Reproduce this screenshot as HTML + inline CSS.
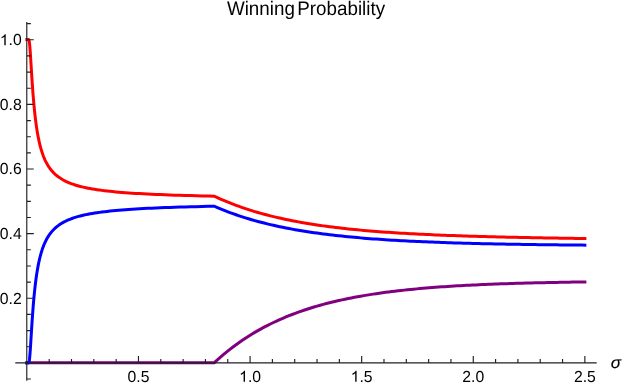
<!DOCTYPE html>
<html><head><meta charset="utf-8"><title>Winning Probability</title>
<style>
html,body{margin:0;padding:0;background:#fff;}
body{width:623px;height:383px;overflow:hidden;font-family:"Liberation Sans",sans-serif;}
svg{display:block;will-change:transform;}
text{text-rendering:geometricPrecision;font-family:"Liberation Sans",sans-serif;fill:#000;}
</style></head><body>
<svg width="623" height="383" viewBox="0 0 623 383">
<rect width="623" height="383" fill="#fff"/>
<text transform="translate(306.0,14.75) scale(1,1.045)" font-size="18.8" text-anchor="middle" word-spacing="-2.7">Winning Probability</text>
<g fill="none" stroke-width="3" stroke-linejoin="miter" stroke-miterlimit="4" stroke-linecap="square">
<path stroke="#800080" d="M26.80,362.70 L214.30,362.70 L217.41,359.84 L220.53,357.09 L223.64,354.43 L226.76,351.86 L229.87,349.38 L232.98,346.98 L236.10,344.68 L239.21,342.45 L242.33,340.29 L245.44,338.22 L248.55,336.21 L251.67,334.28 L254.78,332.41 L257.90,330.61 L261.01,328.87 L264.12,327.19 L267.24,325.57 L270.35,324.00 L273.47,322.49 L276.58,321.03 L279.69,319.63 L282.81,318.27 L285.92,316.96 L289.04,315.70 L292.15,314.48 L295.26,313.30 L298.38,312.16 L301.49,311.06 L304.61,310.01 L307.72,308.98 L310.84,308.00 L313.95,307.05 L317.06,306.13 L320.18,305.24 L323.29,304.38 L326.41,303.56 L329.52,302.76 L332.63,301.99 L335.75,301.25 L338.86,300.53 L341.98,299.84 L345.09,299.18 L348.20,298.53 L351.32,297.91 L354.43,297.31 L357.55,296.73 L360.66,296.17 L363.77,295.63 L366.89,295.11 L370.00,294.61 L373.12,294.13 L376.23,293.66 L379.34,293.21 L382.46,292.77 L385.57,292.35 L388.69,291.95 L391.80,291.55 L394.91,291.18 L398.03,290.81 L401.14,290.46 L404.26,290.12 L407.37,289.79 L410.48,289.48 L413.60,289.17 L416.71,288.88 L419.83,288.59 L422.94,288.32 L426.05,288.05 L429.17,287.80 L432.28,287.55 L435.40,287.31 L438.51,287.08 L441.62,286.86 L444.74,286.65 L447.85,286.44 L450.97,286.24 L454.08,286.05 L457.19,285.86 L460.31,285.68 L463.42,285.51 L466.54,285.34 L469.65,285.18 L472.76,285.03 L475.88,284.88 L478.99,284.73 L482.11,284.59 L485.22,284.46 L488.33,284.33 L491.45,284.20 L494.56,284.08 L497.68,283.97 L500.79,283.85 L503.91,283.74 L507.02,283.64 L510.13,283.54 L513.25,283.44 L516.36,283.35 L519.48,283.25 L522.59,283.17 L525.70,283.08 L528.82,283.00 L531.93,282.92 L535.05,282.84 L538.16,282.77 L541.27,282.70 L544.39,282.63 L547.50,282.56 L550.62,282.50 L553.73,282.44 L556.84,282.38 L559.96,282.32 L563.07,282.27 L566.19,282.21 L569.30,282.16 L572.41,282.11 L575.53,282.06 L578.64,282.02 L581.76,281.97 L584.87,281.93"/>
<path stroke="#0000ff" d="M26.87,362.88 L26.98,362.88 L26.99,362.88 L26.99,362.88 L26.99,362.88 L27.00,362.88 L27.00,362.88 L27.01,362.88 L27.01,362.88 L27.02,362.88 L27.02,362.88 L27.03,362.88 L27.03,362.88 L27.04,362.88 L27.04,362.88 L27.05,362.88 L27.06,362.88 L27.06,362.88 L27.07,362.88 L27.08,362.88 L27.08,362.88 L27.09,362.88 L27.10,362.88 L27.11,362.88 L27.11,362.88 L27.12,362.88 L27.13,362.88 L27.14,362.88 L27.15,362.88 L27.16,362.88 L27.17,362.88 L27.18,362.88 L27.19,362.88 L27.20,362.88 L27.21,362.88 L27.22,362.88 L27.24,362.88 L27.25,362.88 L27.26,362.88 L27.27,362.88 L27.29,362.88 L27.30,362.88 L27.32,362.88 L27.33,362.88 L27.35,362.88 L27.37,362.88 L27.38,362.88 L27.40,362.88 L27.42,362.88 L27.44,362.88 L27.46,362.88 L27.48,362.88 L27.50,362.88 L27.52,362.88 L27.54,362.88 L27.57,362.88 L27.59,362.88 L27.62,362.88 L27.64,362.88 L27.67,362.88 L27.70,362.88 L27.72,362.88 L27.75,362.88 L27.78,362.88 L27.82,362.88 L27.85,362.88 L27.88,362.88 L27.92,362.88 L27.95,362.88 L27.99,362.88 L28.03,362.88 L28.07,362.88 L28.11,362.88 L28.15,362.88 L28.20,362.88 L28.24,362.88 L28.29,362.88 L28.34,362.87 L28.39,362.87 L28.44,362.86 L28.50,362.85 L28.55,362.83 L28.61,362.79 L28.67,362.75 L28.73,362.68 L28.80,362.59 L28.86,362.47 L28.93,362.31 L29.00,362.10 L29.08,361.83 L29.15,361.50 L29.23,361.09 L29.31,360.60 L29.40,360.01 L29.48,359.32 L29.57,358.53 L29.67,357.62 L29.76,356.59 L29.86,355.44 L29.97,354.17 L30.07,352.77 L30.18,351.25 L30.30,349.61 L30.42,347.84 L30.54,345.97 L30.67,343.99 L30.80,341.90 L30.93,339.72 L31.07,337.45 L31.22,335.11 L31.37,332.69 L31.52,330.21 L31.68,327.68 L31.85,325.11 L32.02,322.49 L32.20,319.85 L32.38,317.19 L32.57,314.51 L32.77,311.83 L32.97,309.15 L33.18,306.48 L33.40,303.81 L33.62,301.17 L33.86,298.55 L34.10,295.95 L34.35,293.38 L34.61,290.85 L34.87,288.36 L35.15,285.90 L35.43,283.49 L35.73,281.12 L36.04,278.80 L36.35,276.52 L36.68,274.29 L37.02,272.11 L37.37,269.99 L37.73,267.91 L38.10,265.88 L38.49,263.90 L38.89,261.98 L39.31,260.10 L39.74,258.27 L40.18,256.50 L40.64,254.77 L41.11,253.09 L41.60,251.46 L42.11,249.88 L42.64,248.34 L43.18,246.84 L43.74,245.40 L44.33,243.99 L44.93,242.63 L45.55,241.31 L46.20,240.03 L46.86,238.79 L47.55,237.59 L48.27,236.42 L49.00,235.30 L49.77,234.20 L50.56,233.15 L51.37,232.12 L52.22,231.14 L53.09,230.18 L54.00,229.25 L54.93,228.35 L55.90,227.49 L56.90,226.65 L57.94,225.83 L59.01,225.05 L60.12,224.29 L61.27,223.56 L62.45,222.85 L63.68,222.16 L64.95,221.50 L66.26,220.85 L67.62,220.23 L69.03,219.63 L70.48,219.05 L71.98,218.49 L73.54,217.95 L75.15,217.43 L76.82,216.92 L78.54,216.43 L80.32,215.96 L82.16,215.50 L84.07,215.06 L86.04,214.64 L88.08,214.22 L90.20,213.83 L92.38,213.44 L94.64,213.07 L96.98,212.71 L99.40,212.36 L101.90,212.03 L104.48,211.70 L107.16,211.39 L109.93,211.09 L112.80,210.80 L115.76,210.51 L118.83,210.24 L122.00,209.98 L125.28,209.72 L128.67,209.48 L132.18,209.24 L135.82,209.01 L139.57,208.79 L143.46,208.57 L147.48,208.37 L151.64,208.17 L155.95,207.97 L160.40,207.79 L165.00,207.60 L169.77,207.43 L174.70,207.26 L179.79,207.10 L185.07,206.94 L190.53,206.79 L196.17,206.64 L202.01,206.50 L208.05,206.36 L214.30,206.23 L217.41,207.59 L220.53,208.90 L223.64,210.16 L226.76,211.38 L229.87,212.55 L232.98,213.69 L236.10,214.78 L239.21,215.84 L242.33,216.86 L245.44,217.84 L248.55,218.79 L251.67,219.71 L254.78,220.60 L257.90,221.45 L261.01,222.28 L264.12,223.07 L267.24,223.84 L270.35,224.59 L273.47,225.30 L276.58,226.00 L279.69,226.66 L282.81,227.31 L285.92,227.93 L289.04,228.53 L292.15,229.12 L295.26,229.68 L298.38,230.22 L301.49,230.74 L304.61,231.25 L307.72,231.73 L310.84,232.20 L313.95,232.66 L317.06,233.10 L320.18,233.52 L323.29,233.93 L326.41,234.33 L329.52,234.71 L332.63,235.08 L335.75,235.44 L338.86,235.78 L341.98,236.11 L345.09,236.43 L348.20,236.74 L351.32,237.04 L354.43,237.33 L357.55,237.61 L360.66,237.88 L363.77,238.14 L366.89,238.40 L370.00,238.64 L373.12,238.88 L376.23,239.10 L379.34,239.32 L382.46,239.54 L385.57,239.74 L388.69,239.94 L391.80,240.13 L394.91,240.32 L398.03,240.50 L401.14,240.67 L404.26,240.84 L407.37,241.00 L410.48,241.16 L413.60,241.31 L416.71,241.45 L419.83,241.59 L422.94,241.73 L426.05,241.86 L429.17,241.99 L432.28,242.12 L435.40,242.24 L438.51,242.35 L441.62,242.46 L444.74,242.57 L447.85,242.68 L450.97,242.78 L454.08,242.88 L457.19,242.97 L460.31,243.06 L463.42,243.15 L466.54,243.24 L469.65,243.32 L472.76,243.40 L475.88,243.48 L478.99,243.56 L482.11,243.63 L485.22,243.70 L488.33,243.77 L491.45,243.84 L494.56,243.90 L497.68,243.97 L500.79,244.03 L503.91,244.09 L507.02,244.14 L510.13,244.20 L513.25,244.25 L516.36,244.30 L519.48,244.35 L522.59,244.40 L525.70,244.45 L528.82,244.50 L531.93,244.54 L535.05,244.59 L538.16,244.63 L541.27,244.67 L544.39,244.71 L547.50,244.75 L550.62,244.79 L553.73,244.82 L556.84,244.86 L559.96,244.89 L563.07,244.93 L566.19,244.96 L569.30,244.99 L572.41,245.02 L575.53,245.05 L578.64,245.08 L581.76,245.11 L584.87,245.14"/>
<path stroke="#ff0000" d="M26.87,39.52 L26.98,39.52 L26.99,39.52 L26.99,39.52 L26.99,39.52 L27.00,39.52 L27.00,39.52 L27.01,39.52 L27.01,39.52 L27.02,39.52 L27.02,39.52 L27.03,39.52 L27.03,39.52 L27.04,39.52 L27.04,39.52 L27.05,39.52 L27.06,39.52 L27.06,39.52 L27.07,39.52 L27.08,39.52 L27.08,39.52 L27.09,39.52 L27.10,39.52 L27.11,39.52 L27.11,39.52 L27.12,39.52 L27.13,39.52 L27.14,39.52 L27.15,39.52 L27.16,39.52 L27.17,39.52 L27.18,39.52 L27.19,39.52 L27.20,39.52 L27.21,39.52 L27.22,39.52 L27.24,39.52 L27.25,39.52 L27.26,39.52 L27.27,39.52 L27.29,39.52 L27.30,39.52 L27.32,39.52 L27.33,39.52 L27.35,39.52 L27.37,39.52 L27.38,39.52 L27.40,39.52 L27.42,39.52 L27.44,39.52 L27.46,39.52 L27.48,39.52 L27.50,39.52 L27.52,39.52 L27.54,39.52 L27.57,39.52 L27.59,39.52 L27.62,39.52 L27.64,39.52 L27.67,39.52 L27.70,39.52 L27.72,39.52 L27.75,39.52 L27.78,39.52 L27.82,39.52 L27.85,39.52 L27.88,39.52 L27.92,39.52 L27.95,39.52 L27.99,39.52 L28.03,39.52 L28.07,39.52 L28.11,39.52 L28.15,39.52 L28.20,39.52 L28.24,39.52 L28.29,39.52 L28.34,39.53 L28.39,39.53 L28.44,39.54 L28.50,39.55 L28.55,39.57 L28.61,39.61 L28.67,39.65 L28.73,39.72 L28.80,39.81 L28.86,39.93 L28.93,40.09 L29.00,40.30 L29.08,40.57 L29.15,40.90 L29.23,41.31 L29.31,41.80 L29.40,42.39 L29.48,43.08 L29.57,43.87 L29.67,44.78 L29.76,45.81 L29.86,46.96 L29.97,48.23 L30.07,49.63 L30.18,51.15 L30.30,52.79 L30.42,54.56 L30.54,56.43 L30.67,58.41 L30.80,60.50 L30.93,62.68 L31.07,64.95 L31.22,67.29 L31.37,69.71 L31.52,72.19 L31.68,74.72 L31.85,77.29 L32.02,79.91 L32.20,82.55 L32.38,85.21 L32.57,87.89 L32.77,90.57 L32.97,93.25 L33.18,95.92 L33.40,98.59 L33.62,101.23 L33.86,103.85 L34.10,106.45 L34.35,109.02 L34.61,111.55 L34.87,114.04 L35.15,116.50 L35.43,118.91 L35.73,121.28 L36.04,123.60 L36.35,125.88 L36.68,128.11 L37.02,130.29 L37.37,132.41 L37.73,134.49 L38.10,136.52 L38.49,138.50 L38.89,140.42 L39.31,142.30 L39.74,144.13 L40.18,145.90 L40.64,147.63 L41.11,149.31 L41.60,150.94 L42.11,152.52 L42.64,154.06 L43.18,155.56 L43.74,157.00 L44.33,158.41 L44.93,159.77 L45.55,161.09 L46.20,162.37 L46.86,163.61 L47.55,164.81 L48.27,165.98 L49.00,167.10 L49.77,168.20 L50.56,169.25 L51.37,170.28 L52.22,171.26 L53.09,172.22 L54.00,173.15 L54.93,174.05 L55.90,174.91 L56.90,175.75 L57.94,176.57 L59.01,177.35 L60.12,178.11 L61.27,178.84 L62.45,179.55 L63.68,180.24 L64.95,180.90 L66.26,181.55 L67.62,182.17 L69.03,182.77 L70.48,183.35 L71.98,183.91 L73.54,184.45 L75.15,184.97 L76.82,185.48 L78.54,185.97 L80.32,186.44 L82.16,186.90 L84.07,187.34 L86.04,187.76 L88.08,188.18 L90.20,188.57 L92.38,188.96 L94.64,189.33 L96.98,189.69 L99.40,190.04 L101.90,190.37 L104.48,190.70 L107.16,191.01 L109.93,191.31 L112.80,191.60 L115.76,191.89 L118.83,192.16 L122.00,192.42 L125.28,192.68 L128.67,192.92 L132.18,193.16 L135.82,193.39 L139.57,193.61 L143.46,193.83 L147.48,194.03 L151.64,194.23 L155.95,194.43 L160.40,194.61 L165.00,194.80 L169.77,194.97 L174.70,195.14 L179.79,195.30 L185.07,195.46 L190.53,195.61 L196.17,195.76 L202.01,195.90 L208.05,196.04 L214.30,196.17 L217.41,197.62 L220.53,199.02 L223.64,200.37 L226.76,201.68 L229.87,202.94 L232.98,204.16 L236.10,205.33 L239.21,206.46 L242.33,207.56 L245.44,208.62 L248.55,209.64 L251.67,210.62 L254.78,211.57 L257.90,212.49 L261.01,213.37 L264.12,214.23 L267.24,215.05 L270.35,215.85 L273.47,216.62 L276.58,217.36 L279.69,218.08 L282.81,218.77 L285.92,219.44 L289.04,220.08 L292.15,220.70 L295.26,221.30 L298.38,221.88 L301.49,222.45 L304.61,222.99 L307.72,223.51 L310.84,224.01 L313.95,224.50 L317.06,224.97 L320.18,225.43 L323.29,225.87 L326.41,226.29 L329.52,226.70 L332.63,227.10 L335.75,227.48 L338.86,227.85 L341.98,228.21 L345.09,228.56 L348.20,228.89 L351.32,229.21 L354.43,229.52 L357.55,229.83 L360.66,230.12 L363.77,230.40 L366.89,230.67 L370.00,230.94 L373.12,231.19 L376.23,231.44 L379.34,231.68 L382.46,231.91 L385.57,232.13 L388.69,232.35 L391.80,232.56 L394.91,232.76 L398.03,232.96 L401.14,233.15 L404.26,233.34 L407.37,233.51 L410.48,233.69 L413.60,233.85 L416.71,234.02 L419.83,234.17 L422.94,234.33 L426.05,234.48 L429.17,234.62 L432.28,234.76 L435.40,234.89 L438.51,235.02 L441.62,235.15 L444.74,235.28 L447.85,235.40 L450.97,235.51 L454.08,235.62 L457.19,235.73 L460.31,235.84 L463.42,235.95 L466.54,236.05 L469.65,236.14 L472.76,236.24 L475.88,236.33 L478.99,236.42 L482.11,236.51 L485.22,236.60 L488.33,236.68 L491.45,236.76 L494.56,236.84 L497.68,236.92 L500.79,236.99 L503.91,237.07 L507.02,237.14 L510.13,237.21 L513.25,237.28 L516.36,237.35 L519.48,237.41 L522.59,237.47 L525.70,237.54 L528.82,237.60 L531.93,237.66 L535.05,237.72 L538.16,237.77 L541.27,237.83 L544.39,237.88 L547.50,237.94 L550.62,237.99 L553.73,238.04 L556.84,238.09 L559.96,238.14 L563.07,238.19 L566.19,238.24 L569.30,238.28 L572.41,238.33 L575.53,238.38 L578.64,238.42 L581.76,238.46 L584.87,238.51"/>
</g>
<g fill="none" stroke="#202020" stroke-width="1.15">
<path d="M15.3,362.88H596.7M26.78,22.0V380.8"/>
<path d="M49.19,362.88v-4.0M71.51,362.88v-4.0M93.83,362.88v-4.0M116.15,362.88v-4.0M138.47,362.88v-6.9M160.79,362.88v-4.0M183.11,362.88v-4.0M205.43,362.88v-4.0M227.75,362.88v-4.0M250.07,362.88v-6.9M272.39,362.88v-4.0M294.71,362.88v-4.0M317.03,362.88v-4.0M339.35,362.88v-4.0M361.67,362.88v-6.9M383.99,362.88v-4.0M406.31,362.88v-4.0M428.63,362.88v-4.0M450.95,362.88v-4.0M473.27,362.88v-6.9M495.59,362.88v-4.0M517.91,362.88v-4.0M540.23,362.88v-4.0M562.55,362.88v-4.0M584.87,362.88v-6.9M26.87,379.03h4.0M26.87,346.73h4.0M26.87,330.57h4.0M26.87,314.41h4.0M26.87,298.26h6.9M26.87,282.11h4.0M26.87,265.95h4.0M26.87,249.79h4.0M26.87,233.64h6.9M26.87,217.48h4.0M26.87,201.33h4.0M26.87,185.17h4.0M26.87,169.02h6.9M26.87,152.86h4.0M26.87,136.71h4.0M26.87,120.55h4.0M26.87,104.40h6.9M26.87,88.25h4.0M26.87,72.09h4.0M26.87,55.93h4.0M26.87,39.78h6.9M26.87,23.62h4.0"/>
</g>
<g font-size="15.3"><text transform="translate(127.52,381.80) scale(1.03,1.05)">0.5</text><path fill="#000" transform="translate(239.12,381.80) scale(0.00769,-0.00747)" d="M763 0H583V1147Q518 1085 412.5 1023T223 930V1104Q374 1175 487 1276T647 1472H763Z"/><text transform="translate(247.88,381.80) scale(1.03,1.05)">.0</text><path fill="#000" transform="translate(350.72,381.80) scale(0.00769,-0.00747)" d="M763 0H583V1147Q518 1085 412.5 1023T223 930V1104Q374 1175 487 1276T647 1472H763Z"/><text transform="translate(359.48,381.80) scale(1.03,1.05)">.5</text><text transform="translate(462.32,381.80) scale(1.03,1.05)">2.0</text><text transform="translate(573.92,381.80) scale(1.03,1.05)">2.5</text><text transform="translate(-0.16,303.71) scale(1.03,1.05)">0.2</text><text transform="translate(-0.16,239.09) scale(1.03,1.05)">0.4</text><text transform="translate(-0.16,174.47) scale(1.03,1.05)">0.6</text><text transform="translate(-0.16,109.85) scale(1.03,1.05)">0.8</text><path fill="#000" transform="translate(-0.16,45.23) scale(0.00769,-0.00747)" d="M763 0H583V1147Q518 1085 412.5 1023T223 930V1104Q374 1175 487 1276T647 1472H763Z"/><text transform="translate(8.61,45.23) scale(1.03,1.05)">.0</text></g>
<text transform="translate(616.0,368.0) scale(1.05,1)" font-size="16.3" font-style="italic" text-anchor="middle" stroke="#000" stroke-width="0.12">σ</text>
</svg>
</body></html>
